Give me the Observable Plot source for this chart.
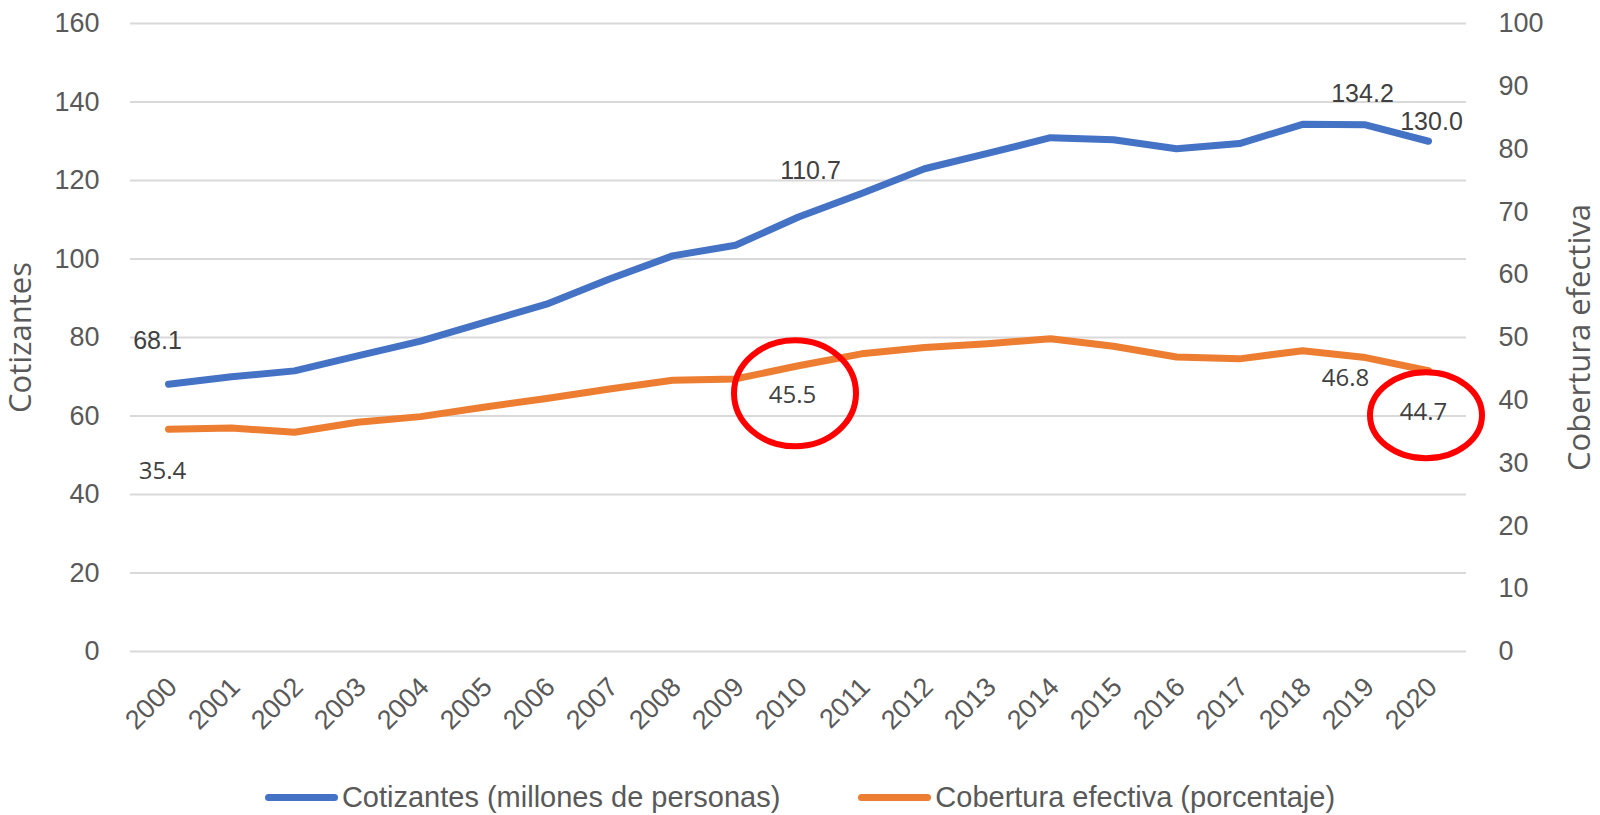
<!DOCTYPE html>
<html>
<head>
<meta charset="utf-8">
<script src="https://cdn.jsdelivr.net/npm/d3@7"></script>
<script src="https://cdn.jsdelivr.net/npm/@observablehq/plot@0.6"></script>
<style>
  html, body { margin: 0; padding: 0; background: #ffffff; }
  #legend {
    display: flex; justify-content: center; align-items: center;
    height: 46px; margin-top: 4px;
    font-family: "Liberation Sans", Arial, sans-serif; font-size: 29px; color: #595959;
  }
  #legend .item { display: flex; align-items: center; }
  #legend .item + .item { margin-left: 78px; }
  #legend .sw { width: 73px; height: 7px; border-radius: 4px; margin-right: 4px; }
</style>
</head>
<body>
<div id="chart"></div>
<div id="legend"></div>
<script>
// ---- data ----
const years = [2000,2001,2002,2003,2004,2005,2006,2007,2008,2009,2010,2011,2012,2013,2014,2015,2016,2017,2018,2019,2020];
const cotizantes = [68.1,70.0,71.5,75.3,79.1,83.8,88.5,94.9,100.8,103.5,110.7,116.7,123.0,126.9,130.9,130.4,128.1,129.4,134.3,134.2,130.0];
const cobertura = [35.4,35.6,34.9,36.5,37.4,38.9,40.3,41.8,43.2,43.4,45.5,47.4,48.4,49.0,49.8,48.6,46.9,46.6,47.9,46.8,44.7];
const leftTicks = [0,20,40,60,80,100,120,140,160];
const rightTicks = [0,10,20,30,40,50,60,70,80,90,100];
const seriesNames = ["Cotizantes (millones de personas)", "Cobertura efectiva (porcentaje)"];
const axisTitles = ["Cotizantes", "Cobertura efectiva"];
const labeledYears = [2000, 2010, 2019, 2020];
const circledYears = [2010, 2020];

// ---- styles ----
const colors = ["#4472C4", "#ED7D31"];
const ratio = 160 / 100; // right axis (0-100) mapped onto left axis (0-160)
const blueLabelOffsets = [[-11,-43],[12,-46],[-3,-31],[3,-19]];
const orangeLabelOffsets = [[-6,42],[-6,30],[-20,21],[-5,42]];
const circleStyle = [{dx:-3, dy:28, rx:61, ry:53}, {dx:-2, dy:45, rx:56, ry:43}];

const W = 1600, H = 770;
const rows = years.map((y, i) => ({year: y, cot: cotizantes[i], cob: cobertura[i], cobL: cobertura[i] * ratio}));

const labelMarks = [];
labeledYears.forEach((yr, k) => {
  const r = rows[years.indexOf(yr)];
  labelMarks.push(Plot.text([r], {
    x: "year", y: "cot", text: d => d.cot.toFixed(1),
    dx: blueLabelOffsets[k][0], dy: blueLabelOffsets[k][1],
    fill: "#404040", fontSize: 25, fontFamily: "'Liberation Sans', Arial, sans-serif"
  }));
  labelMarks.push(Plot.text([r], {
    x: "year", y: "cobL", text: d => d.cob.toFixed(1),
    dx: orangeLabelOffsets[k][0], dy: orangeLabelOffsets[k][1],
    fill: "#404040", fontSize: 24, fontFamily: "'Open Sans', 'Noto Sans', sans-serif"
  }));
});

const plot = Plot.plot({
  width: W, height: H,
  marginTop: 23, marginBottom: H - 651, marginLeft: 130, marginRight: 134,
  style: {fontFamily: "'Liberation Sans', Arial, sans-serif", fontSize: "27px", color: "#595959", background: "#ffffff", overflow: "visible"},
  x: {type: "point", domain: years, padding: 0.5},
  y: {domain: [0, 160]},
  marks: [
    Plot.gridY(leftTicks, {stroke: "#d9d9d9", strokeOpacity: 1, strokeWidth: 2}),
    Plot.axisY(leftTicks, {anchor: "left", tickSize: 0, tickPadding: 31, label: null, fontSize: 27}),
    Plot.axisY(rightTicks.map(v => v * ratio), {anchor: "right", tickSize: 0, tickPadding: 32, label: null, fontSize: 27, tickFormat: v => String(Math.round(v / ratio))}),
    Plot.axisX(years, {anchor: "bottom", tickSize: 0, tickPadding: 31, dx: 4, tickRotate: -45, label: null, fontSize: 27, tickFormat: d => String(d)}),
    Plot.line(rows, {x: "year", y: "cot", stroke: colors[0], strokeWidth: 7, strokeLinecap: "round", strokeLinejoin: "round"}),
    Plot.line(rows, {x: "year", y: "cobL", stroke: colors[1], strokeWidth: 7, strokeLinecap: "round", strokeLinejoin: "round"}),
    ...labelMarks,
    Plot.text([axisTitles[0]], {frameAnchor: "left", textAnchor: "middle", dx: -109, rotate: -90, fill: "#595959", fontSize: 31, fontFamily: "'Open Sans', 'Noto Sans', sans-serif"}),
    Plot.text([axisTitles[1]], {frameAnchor: "right", textAnchor: "middle", dx: 114, rotate: -90, fill: "#595959", fontSize: 31, fontFamily: "'Open Sans', 'Noto Sans', sans-serif"})
  ]
});

// red highlight ellipses around the circled data labels
const sx = plot.scale("x"), sy = plot.scale("y");
circledYears.forEach((yr, k) => {
  const r = rows[years.indexOf(yr)];
  const cs = circleStyle[k];
  d3.select(plot).append("ellipse")
    .attr("cx", sx.apply(yr) + cs.dx)
    .attr("cy", sy.apply(r.cobL) + cs.dy)
    .attr("rx", cs.rx).attr("ry", cs.ry)
    .attr("fill", "none").attr("stroke", "#FF0000").attr("stroke-width", 6);
});

document.getElementById("chart").appendChild(plot);

// legend
const legend = d3.select("#legend");
seriesNames.forEach((name, i) => {
  const item = legend.append("div").attr("class", "item");
  item.append("div").attr("class", "sw").style("background", colors[i]);
  item.append("span").text(name);
});
</script>
</body>
</html>
